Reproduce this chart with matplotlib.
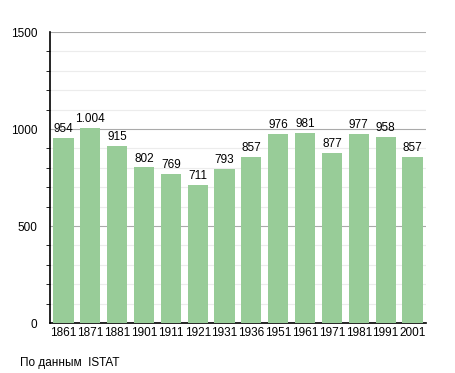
import matplotlib.pyplot as plt
from matplotlib.ticker import MultipleLocator

plt.rcParams['font.family'] = ['Liberation Sans', 'DejaVu Sans']

years = ['1861', '1871', '1881', '1901', '1911', '1921', '1931', '1936',
         '1951', '1961', '1971', '1981', '1991', '2001']
population = [954, 1004, 915, 802, 769, 711, 793, 857, 976, 981, 877, 977, 958, 857]
labels = ['954', '1.004', '915', '802', '769', '711', '793', '857',
          '976', '981', '877', '977', '958', '857']

fig = plt.figure(figsize=(4.55, 3.73), dpi=100)
ax = fig.add_axes([0.110, 0.134, 0.826, 0.780])

x = range(len(years))
ax.bar(x, population, width=0.75, color='#98cc98', zorder=3)
for i, v in enumerate(population):
    ax.text(i, v + 15, labels[i], ha='center', va='bottom', fontsize=8.5, zorder=4)

ax.set_xlim(-0.5, len(years) - 0.5)
ax.set_ylim(0, 1500)
ax.set_xticks(list(x))
ax.set_xticklabels(years, fontsize=8.5)
ax.yaxis.set_major_locator(MultipleLocator(500))
ax.yaxis.set_minor_locator(MultipleLocator(100))
ax.tick_params(axis='y', which='major', labelsize=8.5, length=0, pad=9)
ax.tick_params(axis='y', which='minor', length=3, color='black')
ax.tick_params(axis='x', length=0, pad=3)
ax.grid(axis='y', which='major', color='#aaaaaa', linewidth=0.8, zorder=0)
ax.grid(axis='y', which='minor', color='#ececec', linewidth=0.8, zorder=0)
for s in ['top', 'right']:
    ax.spines[s].set_visible(False)
ax.spines['left'].set_linewidth(1.2)
ax.spines['bottom'].set_linewidth(1.2)

fig.text(0.044, 0.02, 'По данным  ISTAT', fontsize=8.5)

fig.savefig('out.png', dpi=100)
